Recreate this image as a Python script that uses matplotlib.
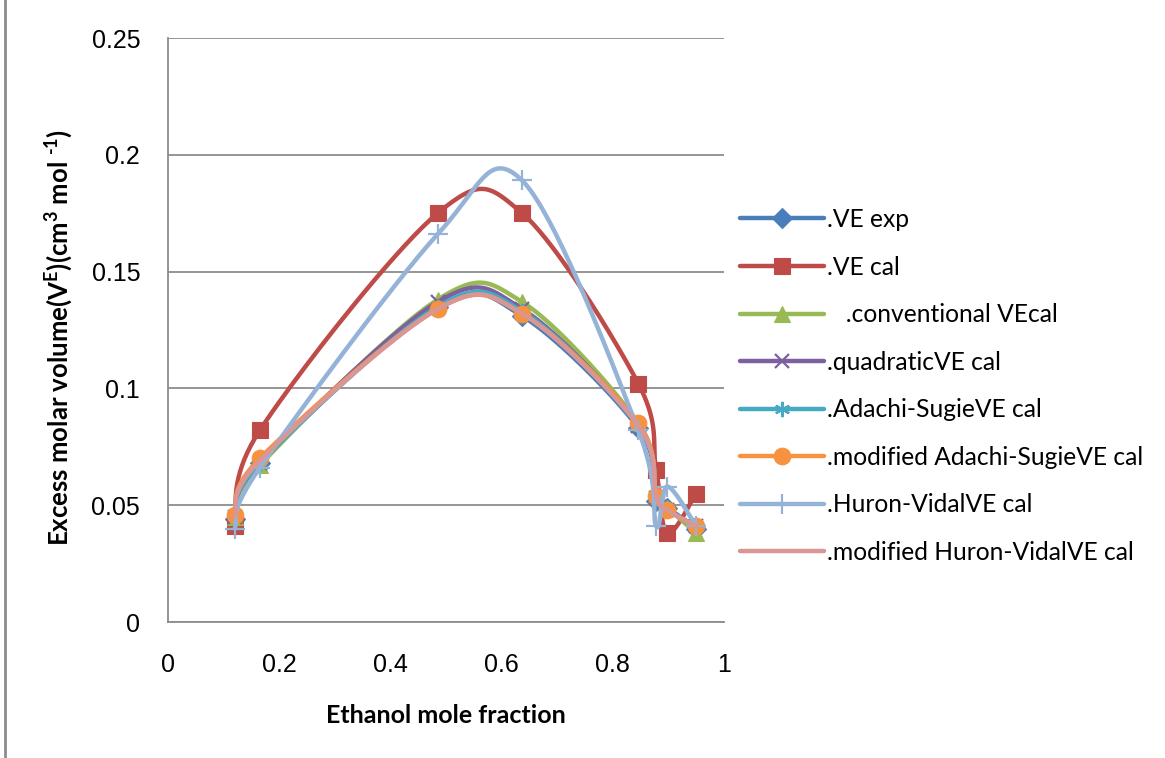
import numpy as np
import matplotlib
matplotlib.use("Agg")
import matplotlib.pyplot as plt
from matplotlib.lines import Line2D

# ethanol mole fraction
x = [0.12, 0.165, 0.485, 0.637, 0.846, 0.878, 0.898, 0.95]

ve_exp = [0.044, 0.068, 0.135, 0.131, 0.083, 0.052, 0.049, 0.040]
ve_cal = [0.041, 0.082, 0.175, 0.175, 0.102, 0.065, 0.038, 0.055]
conventional = [0.045, 0.067, 0.138, 0.137, 0.085, 0.054, 0.049, 0.038]
quadratic = [0.045, 0.068, 0.137, 0.134, 0.084, 0.053, 0.048, 0.041]
adachi = [0.045, 0.068, 0.135, 0.133, 0.084, 0.053, 0.048, 0.041]
mod_adachi = [0.046, 0.070, 0.134, 0.132, 0.085, 0.054, 0.048, 0.041]
huron = [0.040, 0.066, 0.166, 0.189, 0.082, 0.041, 0.058, 0.041]
mod_huron = [0.045, 0.069, 0.134, 0.132, 0.084, 0.054, 0.048, 0.041]

labels = [".VE exp", ".VE cal", "   .conventional VEcal", ".quadraticVE cal",
          ".Adachi-SugieVE cal", ".modified Adachi-SugieVE cal",
          ".Huron-VidalVE cal", ".modified Huron-VidalVE cal"]
colors = ["#4A7EBB", "#BE4B48", "#98B954", "#7D60A0",
          "#46AAC5", "#F69240", "#95B3D7", "#D99694"]
markers = ["D", "s", "^", "x", (6, 2, 0), "o", "+", None]
msizes = [10, 12, 12, 10, 11, 12, 14, 0]


def smooth(xs, ys, n=40):
    # Excel-like smoothed line: cubic bezier with Catmull-Rom control points
    p = np.column_stack([xs, ys]).astype(float)
    ext = np.vstack([p[0], p, p[-1]])
    out = []
    t = np.linspace(0, 1, n)[:, None]
    for i in range(len(p) - 1):
        p0, p1, p2, p3 = ext[i], ext[i + 1], ext[i + 2], ext[i + 3]
        c1 = p1 + (p2 - p0) / 6.0
        c2 = p2 - (p3 - p1) / 6.0
        seg = ((1 - t) ** 3) * p1 + 3 * ((1 - t) ** 2) * t * c1 + 3 * (1 - t) * t ** 2 * c2 + t ** 3 * p2
        out.append(seg if i == 0 else seg[1:])
    out = np.vstack(out)
    return out[:, 0], out[:, 1]


plt.rcParams["mathtext.fontset"] = "custom"
plt.rcParams["mathtext.rm"] = "Lato:bold"
plt.rcParams["mathtext.bf"] = "Lato:bold"

fig = plt.figure(figsize=(11.65, 7.58), dpi=100)
ax = fig.add_axes([168 / 1165, 1 - 622 / 758, 556 / 1165, 584 / 758])

series = [ve_exp, ve_cal, conventional, quadratic, adachi, mod_adachi, huron, mod_huron]
handles = []
for ys, lab, c, m, ms in zip(series, labels, colors, markers, msizes):
    sx, sy = smooth(x, ys)
    ax.plot(sx, sy, color=c, lw=3.2, solid_capstyle="round")
    thin = m in ("x", "+") or isinstance(m, tuple)
    mew = 1.6 if thin else 0.8
    if m is not None:
        ax.plot(x, ys, ls="none", marker=m, ms=ms, color=c, mec=c, mew=mew)
    handles.append(Line2D([], [], color=c, lw=3.2, marker=m, ms=ms if m else 0,
                          mew=mew, solid_capstyle="round"))

ax.set_xlim(0, 1)
ax.set_ylim(0, 0.25)
ax.set_xticks([0, 0.2, 0.4, 0.6, 0.8, 1])
ax.set_xticklabels(["0", "0.2", "0.4", "0.6", "0.8", "1"])
ax.set_yticks([0, 0.05, 0.1, 0.15, 0.2, 0.25])
ax.set_yticklabels(["0", "0.05", "0.1", "0.15", "0.2", "0.25"])
for lab in ax.get_xticklabels() + ax.get_yticklabels():
    lab.set_family("Liberation Sans")
    lab.set_fontsize(18)
ax.tick_params(length=0)
ax.tick_params(axis="y", pad=20)
ax.tick_params(axis="x", pad=22)
ax.grid(axis="y", color="#8C8C8C", lw=1.3)
ax.set_axisbelow(True)
for s in ("top", "right"):
    ax.spines[s].set_visible(False)
for s in ("left", "bottom"):
    ax.spines[s].set_color("#8C8C8C")
    ax.spines[s].set_linewidth(1.3)

ax.set_xlabel("Ethanol mole fraction", family="Lato", fontweight="bold", fontsize=18, labelpad=19.5)
ax.set_ylabel(r"Excess molar volume(V$^{\text{E}}$)(cm$^{\text{3}}$ mol $^{\text{-1}}$)",
              family="Lato", fontweight="bold", fontsize=18.5, labelpad=12)
ax.yaxis.label.set_y(0.487)

fig.legend(handles, labels, loc="upper left", bbox_to_anchor=(740 / 1165, 1 - 208 / 758),
           frameon=False, prop={"family": "Lato", "size": 17.7}, handlelength=3.4,
           handletextpad=0.15, labelspacing=1.0, borderpad=0, borderaxespad=0)

fig.add_artist(Line2D([5 / 1165, 5 / 1165], [0, 1], color="#8C8C8C", lw=2))

fig.savefig("out.png", dpi=100)
